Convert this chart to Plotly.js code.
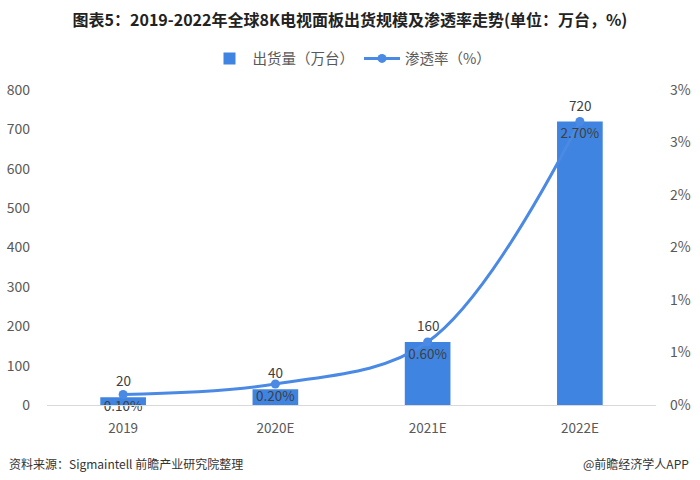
<!DOCTYPE html>
<html>
<head>
<meta charset="utf-8">
<script src="https://cdn.plot.ly/plotly-3.0.1.min.js"></script>
<style>html,body{margin:0;padding:0;background:#fff;}#chart{width:700px;height:480px;}</style>
</head>
<body>
<div id="chart"></div>
<script>
const categories = ['2019', '2020E', '2021E', '2022E'];
const shipments = [20, 40, 160, 720];
const penetration = [0.10, 0.20, 0.60, 2.70];
const leftTicks = [0, 100, 200, 300, 400, 500, 600, 700, 800];
const rightTickVals = [0, 0.5, 1, 1.5, 2, 2.5, 3];
const rightTickText = ['0%', '1%', '1%', '2%', '2%', '3%', '3%'];

const FONT = '"Noto Sans CJK SC", "Noto Sans", sans-serif';
const barColor = '#3f84e0';
const lineColor = '#4a89e4';

const barTrace = {
  type: 'bar', name: '出货量（万台）', x: categories, y: shipments,
  marker: {color: barColor}, yaxis: 'y', hoverinfo: 'none'
};
const lineTrace = {
  type: 'scatter', mode: 'lines+markers+text', name: '渗透率（%）',
  x: categories, y: penetration, yaxis: 'y2', cliponaxis: false,
  line: {color: lineColor, width: 3, shape: 'spline', smoothing: 1},
  marker: {color: lineColor, size: 9},
  text: penetration.map(v => v.toFixed(2) + '%'),
  textposition: 'bottom center',
  textfont: {family: FONT, size: 13.5, color: '#404040'},
  hoverinfo: 'none'
};

const annotations = categories.map((c, i) => ({
  x: i, y: shipments[i], xref: 'x', yref: 'y', yshift: 17,
  text: String(shipments[i]), showarrow: false,
  font: {family: FONT, size: 13.5, color: '#404040'}
}));
annotations.push({
  xref: 'paper', yref: 'paper', x: -0.066, y: -0.187, xanchor: 'left', yanchor: 'middle',
  text: '资料来源：Sigmaintell 前瞻产业研究院整理', showarrow: false,
  font: {family: FONT, size: 12, color: '#333'}
});
annotations.push({
  xref: 'paper', yref: 'paper', x: 1.057, y: -0.187, xanchor: 'right', yanchor: 'middle',
  text: '@前瞻经济学人APP', showarrow: false,
  font: {family: FONT, size: 12, color: '#333'}
});

const layout = {
  width: 700, height: 480,
  margin: {l: 47, r: 44, t: 90, b: 75},
  paper_bgcolor: '#fff', plot_bgcolor: '#fff',
  font: {family: FONT, color: '#595959', size: 13},
  title: {text: '<b>图表5：2019-2022年全球8K电视面板出货规模及渗透率走势(单位：万台，%)</b>',
    x: 0.5, xanchor: 'center', y: 0.958, yanchor: 'middle',
    font: {family: FONT, size: 16, color: '#222'}},
  showlegend: true,
  legend: {orientation: 'h', x: 0.5, xanchor: 'center', y: 1.10, yanchor: 'middle',
    font: {family: FONT, size: 14.5, color: '#595959'}, traceorder: 'normal', itemwidth: 36},
  bargap: 0.70,
  xaxis: {type: 'category', categoryarray: categories, categoryorder: 'array',
    range: [-0.5, 3.5], autorange: false,
    showline: true, linecolor: '#d9d9d9', linewidth: 1, ticklabelstandoff: 11,
    showgrid: false, zeroline: false, ticks: '', tickfont: {size: 13.5, color: '#595959'}},
  yaxis: {range: [0, 800], autorange: false, tickvals: leftTicks, showgrid: false, zeroline: false,
    showline: false, ticks: '', ticklabelstandoff: 16, tickfont: {size: 14, color: '#595959'}},
  yaxis2: {overlaying: 'y', side: 'right', range: [0, 3], autorange: false, tickvals: rightTickVals,
    ticktext: rightTickText, showgrid: false, zeroline: false, showline: false,
    ticks: '', ticklabelstandoff: 13, tickfont: {size: 14, color: '#595959'}},
  annotations: annotations
};

Plotly.newPlot('chart', [barTrace, lineTrace], layout, {displayModeBar: false, staticPlot: true});
</script>
</body>
</html>
